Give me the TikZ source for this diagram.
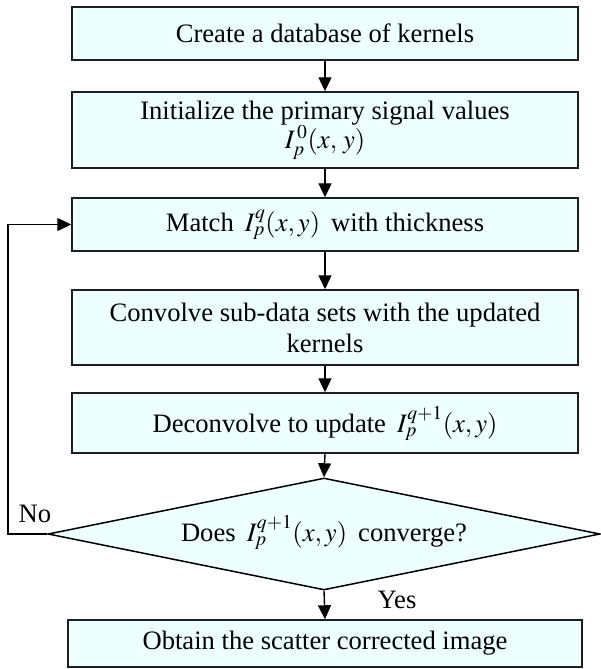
\documentclass[tikz,border=0pt]{standalone}
\usepackage{mathptmx}
\usepackage{fontspec}
\setmainfont{Liberation Serif}
\usetikzlibrary{shapes.geometric,arrows.meta}
\definecolor{boxfill}{RGB}{238,255,255}
\definecolor{boxline}{RGB}{30,30,30}
\begin{document}
\begin{tikzpicture}[x=1pt,y=-1pt,
  font=\fontsize{26.6pt}{31pt}\selectfont,
  stepbox/.style={draw=boxline,fill=boxfill,line width=1.5pt,minimum width=506pt,inner sep=2pt,align=center},
  decbox/.style={draw=black,fill=boxfill,line width=1.5pt,diamond,minimum width=552pt,minimum height=112pt,inner sep=0pt},
  arr/.style={line width=1.4pt,-{Triangle[length=14pt,width=13pt]}},
  lbl/.style={inner sep=0pt}]
\useasboundingbox (0,0) rectangle (601,669);
\node[stepbox,minimum height=53pt] (b1) at (325,33.5) {Create a database of kernels};
\node[stepbox,minimum height=76pt] (b2) at (325,130) {Initialize the primary signal values\\[-2pt]$I_p^{\,0}(x,\,y)$};
\node[stepbox,minimum height=53pt] (b3) at (325,224.5) {Match \,$I_p^{q}(x,y)$\, with thickness};
\node[stepbox,minimum height=75pt] (b4) at (325,327.5) {Convolve sub-data sets with the updated\\kernels};
\node[stepbox,minimum height=60pt] (b5) at (325,423) {Deconvolve to update \,$I_p^{q+1}(x,y)$};
\node[decbox] (dec) at (324,534) {};
\node[lbl] (dect) at (324,532) {Does \,$I_p^{q+1}(x,y)$\, converge?};
\node[stepbox,minimum width=514pt,minimum height=47pt] (b6) at (325,643.5) {Obtain the scatter corrected image};
\coordinate (fb) at (8,534);
\draw[arr] (b1.south) -- (b2.north);
\draw[arr] (b2.south) -- (b3.north);
\draw[arr] (b3.south) -- (b4.north);
\draw[arr] (b4.south) -- (b5.north);
\draw[arr] (b5.south) -- (dec.north);
\draw[arr] (dec.south) -- (b6.north);
\draw[arr] (dec.west) -- (fb) |- (b3.west);
\node[lbl] (no) at (35,514) {No};
\node[lbl] (yes) at (397,600) {Yes};
\end{tikzpicture}
\end{document}
